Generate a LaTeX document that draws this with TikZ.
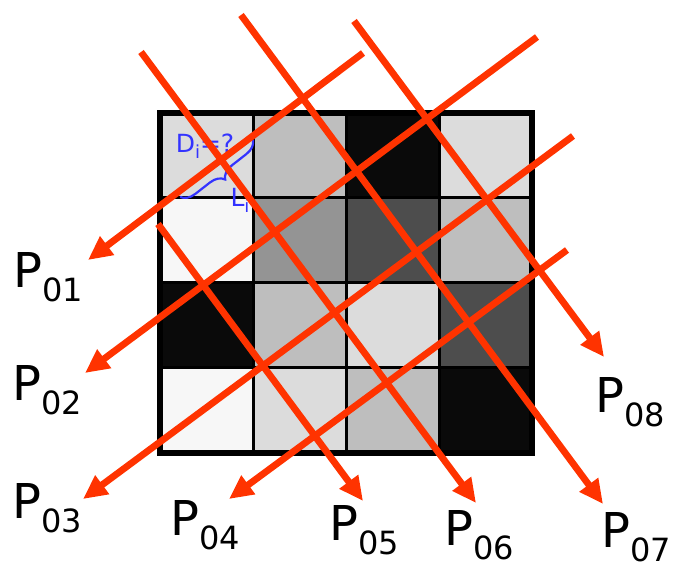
\documentclass[tikz,border=0pt]{standalone}
\usepackage{fontspec}
\setmainfont{DejaVu Sans}
\usepackage{xcolor}
\usepackage{tikz}
\usetikzlibrary{arrows.meta,decorations.pathreplacing}

\definecolor{rayred}{HTML}{FF3300}
\definecolor{noteblue}{HTML}{3333FF}

\newcommand{\pname}[1]{P\raisebox{-7pt}{\fontsize{16}{16}\selectfont #1}}

\begin{document}
\begin{tikzpicture}[x=0.5pt,y=-0.5pt,
    ray/.style={draw=rayred,line width=3.4pt,-{Triangle[length=12pt,width=11pt]}},
    plabel/.style={font=\fontsize{24}{24}\selectfont,inner sep=0pt},
    note/.style={font=\fontsize{12.5}{12.5}\selectfont,text=noteblue,inner sep=0pt}]
    \useasboundingbox (0,0) rectangle (675,566);

    \foreach \c [count=\i from 0] in {DCDCDC,BEBEBE,0A0A0A,DCDCDC,
                                      F7F7F7,949494,4D4D4D,BEBEBE,
                                      0A0A0A,BEBEBE,DCDCDC,4D4D4D,
                                      F7F7F7,DCDCDC,BEBEBE,0A0A0A} {
        \pgfmathtruncatemacro\col{mod(\i,4)}
        \pgfmathtruncatemacro\row{div(\i,4)}
        \definecolor{cellc}{HTML}{\c}
        \fill[cellc] (160+93*\col,113+85*\row) rectangle ++(93,85);
    }
    \foreach \k in {1,2,3} {
        \draw[line width=1.5pt] (160+93*\k,113) -- ++(0,340);
        \draw[line width=1.5pt] (160,113+85*\k) -- ++(372,0);
    }
    \draw[line width=3pt] (160,113) rectangle (532,453);

    \node[note] (di) at (205,146) {D\raisebox{-3pt}{\fontsize{9}{9}\selectfont i}=?};
    \node[note] (li) at (240,200) {L\raisebox{-3pt}{\fontsize{9}{9}\selectfont i}};
    \draw[noteblue,line width=1.1pt,decorate,decoration={brace,amplitude=7pt}]
        (253,140) -- (180,197);

    \foreach \n/\sx/\sy/\tx/\ty in {01/363/53/88/260, 02/537/37/85/373,
                                    03/573/136/83/499, 04/567/250/229/499,
                                    05/158/224/363/501, 06/141/52/476/503,
                                    07/241/15/603/504, 08/354/21/604/357} {
        \coordinate (s\n) at (\sx,\sy);
        \coordinate (t\n) at (\tx,\ty);
        \draw[ray] (s\n) -- (t\n);
    }

    \foreach \n/\lx/\ly in {01/48/277, 02/47/390, 03/47/508, 04/205/525,
                            05/364/530, 06/479/535, 07/636/537, 08/630/402} {
        \node[plabel] (p\n) at (\lx,\ly) {\pname{\n}};
    }
\end{tikzpicture}
\end{document}
